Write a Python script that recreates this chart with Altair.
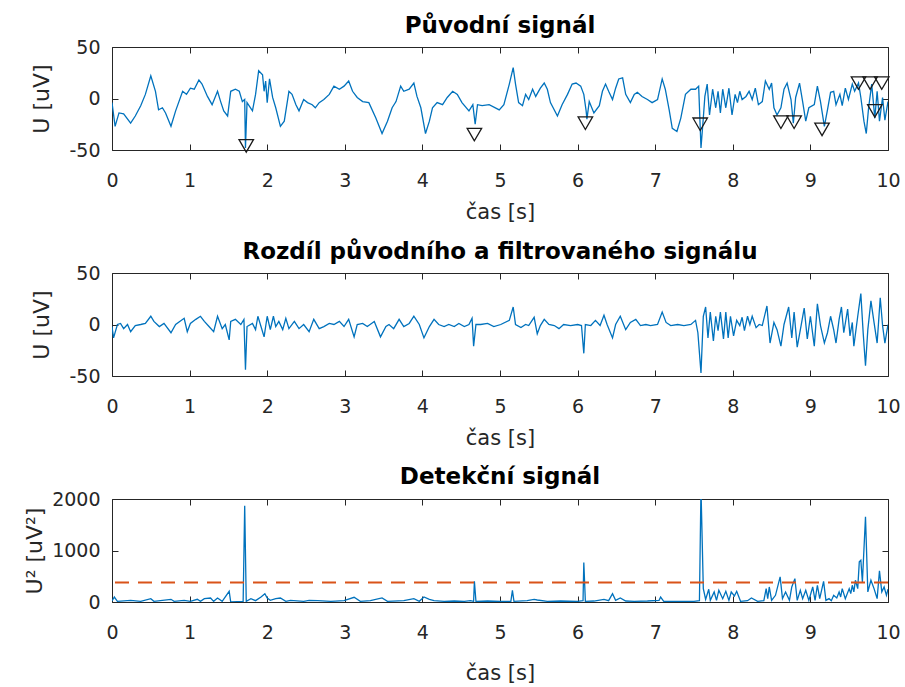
import altair as alt
import pandas as pd

# ---------------- data ----------------
# Původní signál
t_orig = [0.00, 0.04, 0.09, 0.15, 0.24, 0.30, 0.37, 0.43, 0.50, 0.56, 0.60, 0.65, 0.69, 0.76, 0.82, 0.91, 0.96, 1.01, 1.06, 1.12,
          1.16, 1.23, 1.29, 1.36, 1.40, 1.44, 1.49, 1.53, 1.59, 1.64, 1.68, 1.71, 1.72, 1.74, 1.81, 1.85, 1.89, 1.94, 1.96, 1.98,
          2.00, 2.03, 2.07, 2.11, 2.17, 2.22, 2.28, 2.32, 2.37, 2.41, 2.47, 2.52, 2.58, 2.62, 2.67, 2.73, 2.80, 2.86, 2.93, 2.99,
          3.05, 3.10, 3.16, 3.23, 3.31, 3.40, 3.48, 3.55, 3.61, 3.66, 3.72, 3.76, 3.83, 3.89, 3.93, 3.98, 4.04, 4.09, 4.13, 4.19,
          4.26, 4.32, 4.39, 4.45, 4.51, 4.60, 4.65, 4.68, 4.71, 4.77, 4.86, 4.99,
          5.05, 5.12, 5.17, 5.20, 5.24, 5.29, 5.33, 5.37, 5.42, 5.46, 5.52, 5.57, 5.61, 5.65, 5.74, 5.80, 5.87, 5.93, 5.98, 6.04,
          6.08, 6.11, 6.12, 6.15, 6.21, 6.28, 6.32, 6.36, 6.40, 6.45, 6.49, 6.53, 6.58, 6.62, 6.68, 6.73, 6.77, 6.83, 6.90, 6.96,
          7.03, 7.09, 7.13, 7.18, 7.22, 7.28, 7.33, 7.39, 7.46, 7.52, 7.56, 7.59, 7.62, 7.64, 7.67, 7.70, 7.74, 7.78, 7.81, 7.84,
          7.87, 7.91, 7.95, 7.99, 8.03, 8.06, 8.09, 8.12, 8.17, 8.21, 8.25, 8.29, 8.33, 8.38, 8.42, 8.47, 8.50, 8.53, 8.57, 8.62,
          8.66, 8.70, 8.75, 8.78, 8.81, 8.86, 8.90, 8.94, 8.98, 9.05, 9.09, 9.13, 9.18, 9.22, 9.26, 9.30, 9.33, 9.38, 9.41, 9.45,
          9.49, 9.54, 9.57, 9.62, 9.65, 9.69, 9.72, 9.75, 9.79, 9.83, 9.86, 9.89, 9.93, 9.96, 10.00]
u_orig = [-4, -27, -14, -15, -24, -17, -7, 4, 22, 7, -11, -9, -14, -27, -12, 7, 4, 10, 9, 18,
          14, 2, -6, 7, -3, -12, -17, 7, 9, 7, -3, -1, -48, -4, -12, 4, 27, 23, 7, 17,
          -4, 19, 1, -9, -27, -22, 7, 4, -6, -12, -1, -4, -6, -9, -4, -1, 4, 12, 9, 12,
          17, 7, 1, -3, -4, -19, -34, -22, -9, -3, 12, 7, 9, 15, 2, -9, -34, -22, -9, -4,
          -6, 1, 7, 4, -4, -12, -6, -25, -6, -7, -6, -11,
          -6, 14, 30, 14, -4, -7, 4, -1, 9, 2, 10, 15, 9, -4, -17, -6, 4, 14, 15, 12,
          4, -12, -20, -3, -14, -7, 7, 14, 7, -1, 10, 19, 20, 4, -4, 4, 6, 2, -1, -4,
          -1, 19, 9, -11, -29, -32, -19, 4, 9, 9, 12, -48, -19, 2, 14, -16, 9, -9, 7, -14,
          9, -9, 10, -16, 4, -4, 7, -1, 2, 7, -1, 10, -6, -3, 17, 9, 15, -9, -16, -9,
          9, 15, -1, -24, 1, 15, -3, -22, -9, -6, 12, -3, -27, -11, 6, 7, -6, 4, -7, 10,
          -1, 14, 7, 15, 1, -22, -34, -9, 14, -19, 7, -22, 1, -21, -3]

# detected peaks (triangle markers)
t_peak = [1.73, 4.67, 6.10, 7.58, 8.62, 8.79, 9.15, 9.62, 9.77, 9.92, 9.83]
u_peak = [-46, -35, -24, -25, -23, -23, -30, 15, 15, 15, -12]

# Rozdíl původního a filtrovaného signálu
t_diff = [0.00, 0.02, 0.07, 0.11, 0.15, 0.20, 0.24, 0.30, 0.37, 0.43, 0.50, 0.54, 0.61, 0.67, 0.76, 0.82, 0.93, 0.97, 1.01, 1.08,
          1.14, 1.19, 1.25, 1.31, 1.36, 1.42, 1.46, 1.51, 1.53, 1.59, 1.66, 1.70, 1.72, 1.74, 1.81, 1.85, 1.88, 1.92, 1.96, 2.00,
          2.04, 2.08, 2.11, 2.15, 2.20, 2.24, 2.28, 2.35, 2.41, 2.47, 2.54, 2.60, 2.67, 2.73, 2.80, 2.86, 2.93, 2.99, 3.05, 3.12,
          3.16, 3.23, 3.29, 3.38, 3.46, 3.53, 3.57, 3.63, 3.70, 3.76, 3.83, 3.89, 3.96, 4.02, 4.09, 4.15, 4.21, 4.28, 4.34, 4.41,
          4.47, 4.54, 4.60, 4.64, 4.66, 4.69, 4.75, 4.84, 4.92,
          5.01, 5.12, 5.17, 5.20, 5.27, 5.33, 5.37, 5.44, 5.48, 5.52, 5.57, 5.63, 5.70, 5.76, 5.82, 5.91, 6.00, 6.05, 6.08, 6.10,
          6.17, 6.23, 6.29, 6.34, 6.38, 6.45, 6.49, 6.55, 6.62, 6.68, 6.75, 6.81, 6.88, 6.94, 7.03, 7.09, 7.14, 7.20, 7.29, 7.37,
          7.46, 7.52, 7.55, 7.59, 7.62, 7.65, 7.68, 7.71, 7.75, 7.78, 7.81, 7.84, 7.88, 7.91, 7.94, 7.97, 8.01, 8.05, 8.09, 8.12,
          8.15, 8.19, 8.22, 8.25, 8.30, 8.34, 8.38, 8.44, 8.48, 8.53, 8.57, 8.62, 8.66, 8.72, 8.76, 8.79, 8.83, 8.88, 8.92, 8.96,
          9.00, 9.05, 9.09, 9.13, 9.18, 9.22, 9.26, 9.30, 9.33, 9.37, 9.40, 9.43, 9.48, 9.51, 9.54, 9.56, 9.61, 9.65, 9.68, 9.71,
          9.74, 9.78, 9.82, 9.86, 9.90, 9.93, 9.96, 10.00]
u_diff = [-2, -13, 0, 1, -4, 0, -7, -1, 0, 1, 8, 3, -2, 1, -8, 0, 6, -7, 1, 5,
          8, 3, -2, -7, 8, -4, 0, -15, 3, 5, 0, 5, -44, -2, 1, -5, 8, -2, -12, 8,
          -5, 8, -2, 3, -5, 6, -4, 3, -4, 0, -7, 5, -4, -2, 1, 0, 3, -2, 5, -12,
          0, 1, -2, 3, -12, -2, 0, -4, 5, -2, 1, 8, 0, -13, -2, 5, 0, -2, 0, -2,
          1, -2, 0, 6, -21, 0, 0, 1, -2,
          0, 4, 17, 0, -3, 0, -1, 7, -9, -1, 5, 0, -1, -4, 0, -1, 0, -1, -28, 0,
          -1, 4, -1, 9, 0, -13, 0, 8, -5, 2, 5, -1, 0, -1, 0, 12, 2, -1, 0, -1,
          0, 4, -8, -47, 8, 17, -13, 12, -16, 8, -6, 12, -14, 12, -13, 8, -11, 4, -1, 7,
          -6, 8, 0, 8, -3, 0, -1, 18, -18, 2, -5, -21, 0, 17, -13, 12, -22, -1, 16, -14,
          8, -21, 20, -1, -18, -8, 8, -5, -18, 5, 17, -8, 15, -11, 2, -21, 8, 30, -8, -40,
          -5, 23, 2, -18, 26, -1, -18, 0]

# Detekční signál
t_det = [0.00, 0.03, 0.07, 0.24, 0.37, 0.50, 0.54, 0.76, 0.80, 0.93, 1.01, 1.10, 1.14, 1.19, 1.27, 1.31, 1.36, 1.42, 1.51, 1.53,
         1.69, 1.71, 1.73, 1.79, 1.85, 1.92, 1.97, 2.00, 2.04, 2.11, 2.17, 2.24, 2.30, 2.47, 2.54, 2.65, 2.82, 2.99, 3.12, 3.20,
         3.33, 3.48, 3.55, 3.76, 3.89, 3.96, 4.02, 4.09, 4.15, 4.28, 4.41, 4.54, 4.62, 4.66, 4.67, 4.69, 4.84, 5.01, 5.14, 5.16,
         5.18, 5.35, 5.44, 5.48, 5.61, 5.78, 6.00, 6.07, 6.08, 6.10, 6.21, 6.34, 6.40, 6.45, 6.49, 6.55, 6.62, 6.73, 6.90, 7.05,
         7.07, 7.11, 7.33, 7.50, 7.57, 7.59, 7.62, 7.65, 7.69, 7.71, 7.76, 7.79, 7.82, 7.87, 7.91, 7.95, 7.98, 8.02, 8.05, 8.10,
         8.19, 8.24, 8.32, 8.40, 8.43, 8.45, 8.47, 8.50, 8.55, 8.61, 8.64, 8.68, 8.73, 8.76, 8.80, 8.83, 8.87, 8.90, 8.94, 8.98,
         9.03, 9.06, 9.09, 9.12, 9.17, 9.20, 9.24, 9.27, 9.30, 9.34, 9.37, 9.39, 9.41, 9.45, 9.50, 9.52, 9.54, 9.56, 9.58, 9.61,
         9.63, 9.65, 9.67, 9.71, 9.74, 9.78, 9.82, 9.86, 9.89, 9.92, 9.95, 9.98, 10.00]
u_det = [20, 97, 13, 32, 13, 65, 13, 52, 13, 32, 13, 52, 13, 65, 78, 13, 78, 13, 208, 0,
         13, 1870, 13, 65, 26, 97, 162, 78, 32, 65, 78, 13, 32, 13, 32, 26, 13, 26, 91, 13,
         26, 78, 13, 26, 65, 13, 97, 52, 26, 13, 19, 13, 26, 13, 402, 13, 19, 13, 13, 227,
         13, 26, 52, 39, 13, 19, 13, 26, 766, 13, 19, 52, 26, 162, 32, 78, 19, 13, 19, 32,
         97, 13, 13, 13, 26, 2200, 260, 52, 247, 32, 195, 32, 227, 65, 208, 32, 195, 117, 208, 13,
         26, 78, 13, 26, 260, 65, 292, 32, 130, 487, 65, 195, 32, 292, 454, 32, 227, 65, 227, 32,
         292, 32, 325, 65, 402, 32, 65, 26, 130, 78, 195, 97, 260, 65, 260, 162, 325, 195, 422, 260,
         779, 811, 389, 1655, 195, 422, 260, 65, 604, 195, 292, 130, 250]

threshold = [380]

x_ticks = [0, 1, 2, 3, 4, 5, 6, 7, 8, 9, 10]
u_ticks = [-50, 0, 50]
det_ticks = [0, 1000, 2000]

# ---------------- style ----------------
FONT = "DejaVu Sans"
AX = "#262626"
BLUE = "#0072BD"
ORANGE = "#D95319"
W, H = 776, 103
TICK = 6


def xs():
    return alt.Scale(domain=[0, 10], nice=False, zero=False)


def ys(dom):
    return alt.Scale(domain=dom, nice=False, zero=False)


def main_x(title_pad):
    return alt.X("t:Q", scale=xs(), axis=alt.Axis(
        values=x_ticks, ticks=False, domain=False, grid=False, labelFlush=False,
        labelPadding=21, labelFont=FONT, labelFontSize=19, labelColor=AX,
        labelExpr="'' + datum.value",
        title="čas [s]", titleFont=FONT, titleFontSize=21, titleFontWeight="normal",
        titleColor=AX, titlePadding=title_pad))


def main_y(dom, ticks, title, title_x):
    return alt.Y("v:Q", scale=ys(dom), axis=alt.Axis(
        values=ticks, ticks=False, domain=False, grid=False, labelFlush=False,
        labelPadding=12, labelFont=FONT, labelFontSize=19, labelColor=AX,
        labelExpr="'' + datum.value",
        title=title, titleFont=FONT, titleFontSize=22, titleFontWeight="normal",
        titleColor=AX, titleX=title_x))


def tick_layer(df, dom, ticks, xorient, yorient):
    return alt.Chart(df).mark_line(strokeOpacity=0).encode(
        x=alt.X("t:Q", scale=xs(), axis=alt.Axis(
            orient=xorient, values=x_ticks, offset=-TICK, tickSize=TICK, tickColor=AX,
            tickWidth=1, labels=False, domain=False, grid=False, title=None)),
        y=alt.Y("v:Q", scale=ys(dom), axis=alt.Axis(
            orient=yorient, values=ticks, offset=-TICK, tickSize=TICK, tickColor=AX,
            tickWidth=1, labels=False, domain=False, grid=False, title=None)),
    )


def panel(df, dom, ticks, title, ytitle, extra, title_pad=11, title_x=-59):
    line = alt.Chart(df).mark_line(color=BLUE, strokeWidth=1.3, clip=True).encode(
        x=main_x(title_pad), y=main_y(dom, ticks, ytitle, title_x))
    layers = [line,
              tick_layer(df, dom, ticks, "top", "right"),
              tick_layer(df, dom, ticks, "bottom", "left")] + extra
    return alt.layer(*layers).resolve_axis(x="independent", y="independent").properties(
        width=W, height=H,
        title=alt.TitleParams(text=title, font=FONT, fontSize=23, fontWeight="bold",
                              color="#000000", offset=0, frame="group", anchor="middle"))


df_orig = pd.DataFrame({"t": t_orig, "v": u_orig})
df_peak = pd.DataFrame({"t": t_peak, "v": u_peak})
df_diff = pd.DataFrame({"t": t_diff, "v": u_diff})
df_det = pd.DataFrame({"t": t_det, "v": u_det})
df_thr = pd.DataFrame({"v": threshold})

peaks = alt.Chart(df_peak).mark_point(shape="triangle-down", filled=False, size=210,
                                       stroke="#1a1a1a", strokeWidth=1.3, opacity=1).encode(
    x=alt.X("t:Q", scale=xs(), axis=None),
    y=alt.Y("v:Q", scale=ys([-50, 50]), axis=None))

thr = alt.Chart(df_thr).mark_rule(color=ORANGE, strokeWidth=2, strokeDash=[14, 9]).encode(
    y=alt.Y("v:Q", scale=ys([0, 2000]), axis=None))

p1 = panel(df_orig, [-50, 50], u_ticks, "Původní signál", "U [uV]", [peaks])
p2 = panel(df_diff, [-50, 50], u_ticks, "Rozdíl původního a filtrovaného signálu", "U [uV]", [])
p3 = panel(df_det, [0, 2000], det_ticks, "Detekční signál", "U\u00b2 [uV\u00b2]", [thr],
           title_pad=20, title_x=-66)

chart = alt.vconcat(p1, p2, p3, spacing=123, bounds="flush").configure_view(
    stroke=AX, strokeWidth=1).properties(
    padding={"left": 22, "top": 14, "right": 0, "bottom": 2}, background="white")

chart.save("out.html", embed_options={"renderer": "svg", "actions": False})
